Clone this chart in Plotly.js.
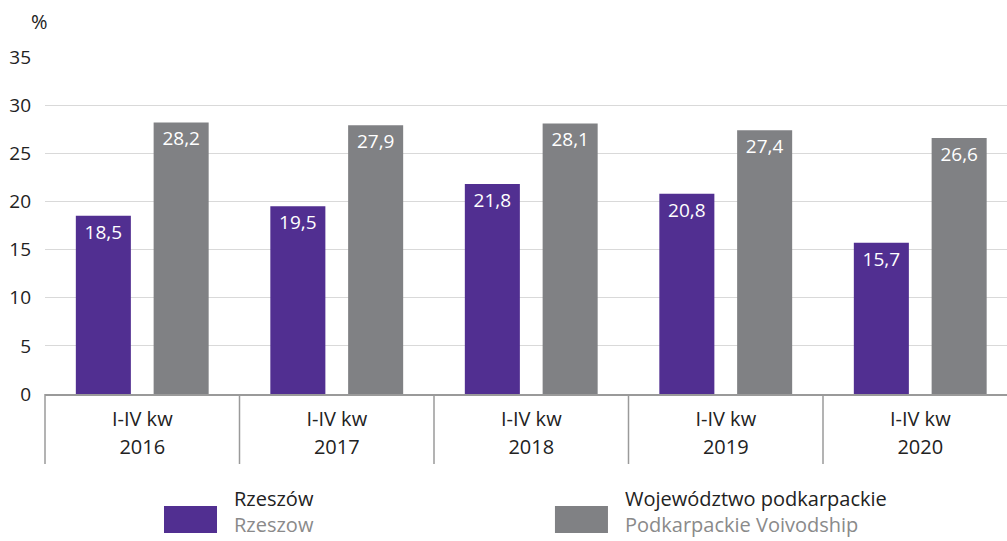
<!DOCTYPE html>
<html>
<head>
<meta charset="utf-8">
<script src="https://cdn.plot.ly/plotly-3.0.1.min.js"></script>
<style>html,body{margin:0;padding:0;background:#fff;}#chart{width:1007px;height:541px;}</style>
</head>
<body>
<div id="chart"></div>
<script>
// ---- data ----
var years = ['2016', '2017', '2018', '2019', '2020'];
var periodLabels = ['I-IV kw', 'I-IV kw', 'I-IV kw', 'I-IV kw', 'I-IV kw'];
var rzeszow = [18.5, 19.5, 21.8, 20.8, 15.7];
var podkarpackie = [28.2, 27.9, 28.1, 27.4, 26.6];
var seriesNames = ['Rzeszów', 'Województwo podkarpackie'];
var seriesNamesEn = ['Rzeszow', 'Podkarpackie Voivodship'];
var yTicks = [0, 5, 10, 15, 20, 25, 30, 35];

// ---- style ----
var PURPLE = '#512f91';
var GREY = '#808184';
var FONT = 'Open Sans, Noto Sans, sans-serif';
var TXT = '#222222';
var FS = 19;
var FS_X = 20;
var FS_LEG = 20;
var BARW = 0.283;
var XRANGE = [-0.5, 4.446];

var traces = [
  {
    type: 'bar', name: seriesNames[0], x: years, y: rzeszow,
    width: BARW, offset: -0.2 - BARW / 2,
    marker: {color: PURPLE},
    texttemplate: '%{y:.1f}', textposition: 'inside', insidetextanchor: 'end',
    textangle: 0, constraintext: 'none',
    insidetextfont: {color: '#ffffff', size: FS, family: FONT},
    hoverinfo: 'skip', showlegend: false
  },
  {
    type: 'bar', name: seriesNames[1], x: years, y: podkarpackie,
    width: BARW, offset: 0.2 - BARW / 2,
    marker: {color: GREY},
    texttemplate: '%{y:.1f}', textposition: 'inside', insidetextanchor: 'end',
    textangle: 0, constraintext: 'none',
    insidetextfont: {color: '#ffffff', size: FS, family: FONT},
    hoverinfo: 'skip', showlegend: false
  }
];

var shapes = [];
// category separators
shapes.push({type: 'line', xref: 'paper', yref: 'paper', x0: 0, x1: 0, y0: 0, y1: -0.2077,
             line: {color: '#9a9a9a', width: 1.5}});
for (var i = 1; i < years.length; i++) {
  shapes.push({type: 'line', xref: 'x', yref: 'paper', x0: i - 0.5, x1: i - 0.5, y0: 0, y1: -0.2077,
               line: {color: '#9a9a9a', width: 1.5}});
}
// legend swatches + two-line labels
var legendX = [[0.1237, 0.1788], [0.5301, 0.5852]];
var legendTextX = [0.1944, 0.6008];
var colors = [PURPLE, GREY];
var annotations = [{
  text: '%', xref: 'paper', yref: 'paper', x: -0.0052, y: 1.104,
  xanchor: 'center', yanchor: 'middle', showarrow: false,
  font: {family: FONT, size: 20, color: TXT}
}];
for (var k = 0; k < 2; k++) {
  shapes.push({type: 'rect', xref: 'paper', yref: 'paper',
               x0: legendX[k][0], x1: legendX[k][1], y0: -0.3323, y1: -0.4125,
               fillcolor: colors[k], line: {width: 0}});
  annotations.push({
    text: seriesNames[k] + '<br><span style="color:#8a8a8a">' + seriesNamesEn[k] + '</span>',
    xref: 'paper', yref: 'paper', x: legendTextX[k], y: -0.4332,
    xanchor: 'left', yanchor: 'bottom', align: 'left', showarrow: false,
    font: {family: FONT, size: FS_LEG, color: TXT}
  });
}

var layout = {
  width: 1007, height: 541,
  margin: {l: 45, r: 0, t: 57, b: 147, pad: 0},
  paper_bgcolor: '#ffffff', plot_bgcolor: '#ffffff',
  separators: ', ',
  barmode: 'overlay',
  showlegend: false,
  font: {family: FONT, size: FS, color: TXT},
  xaxis: {
    type: 'category', range: XRANGE, fixedrange: true,
    tickmode: 'array', tickvals: years, ticktext: periodLabels,
    ticks: '', showgrid: false, zeroline: false,
    showline: true, linecolor: '#9a9a9a', linewidth: 1.5,
    ticklabelstandoff: 6,
    tickfont: {family: FONT, size: FS_X, color: TXT}
  },
  xaxis2: {
    overlaying: 'x', anchor: 'y', side: 'bottom', type: 'linear',
    range: XRANGE, fixedrange: true,
    tickmode: 'array', tickvals: years.map(function (_, i) { return i; }), ticktext: years,
    ticks: '', showgrid: false, zeroline: false, showline: false,
    ticklabelstandoff: 39,
    tickfont: {family: FONT, size: FS_X, color: TXT}
  },
  yaxis: {
    range: [0, 35], fixedrange: true,
    tickmode: 'array', tickvals: yTicks,
    ticks: '', showgrid: true, gridcolor: '#d9d9d9', gridwidth: 1,
    zeroline: false, showline: false,
    ticklabelstandoff: 13,
    tickfont: {family: FONT, size: FS, color: TXT}
  },
  shapes: shapes,
  annotations: annotations
};

// invisible helper trace so xaxis2 renders its year labels
traces.push({type: 'scatter', x: [0], y: [0], xaxis: 'x2', yaxis: 'y', mode: 'markers',
             marker: {opacity: 0}, hoverinfo: 'skip', showlegend: false});

Plotly.newPlot('chart', traces, layout, {displayModeBar: false, staticPlot: true});
</script>
</body>
</html>
